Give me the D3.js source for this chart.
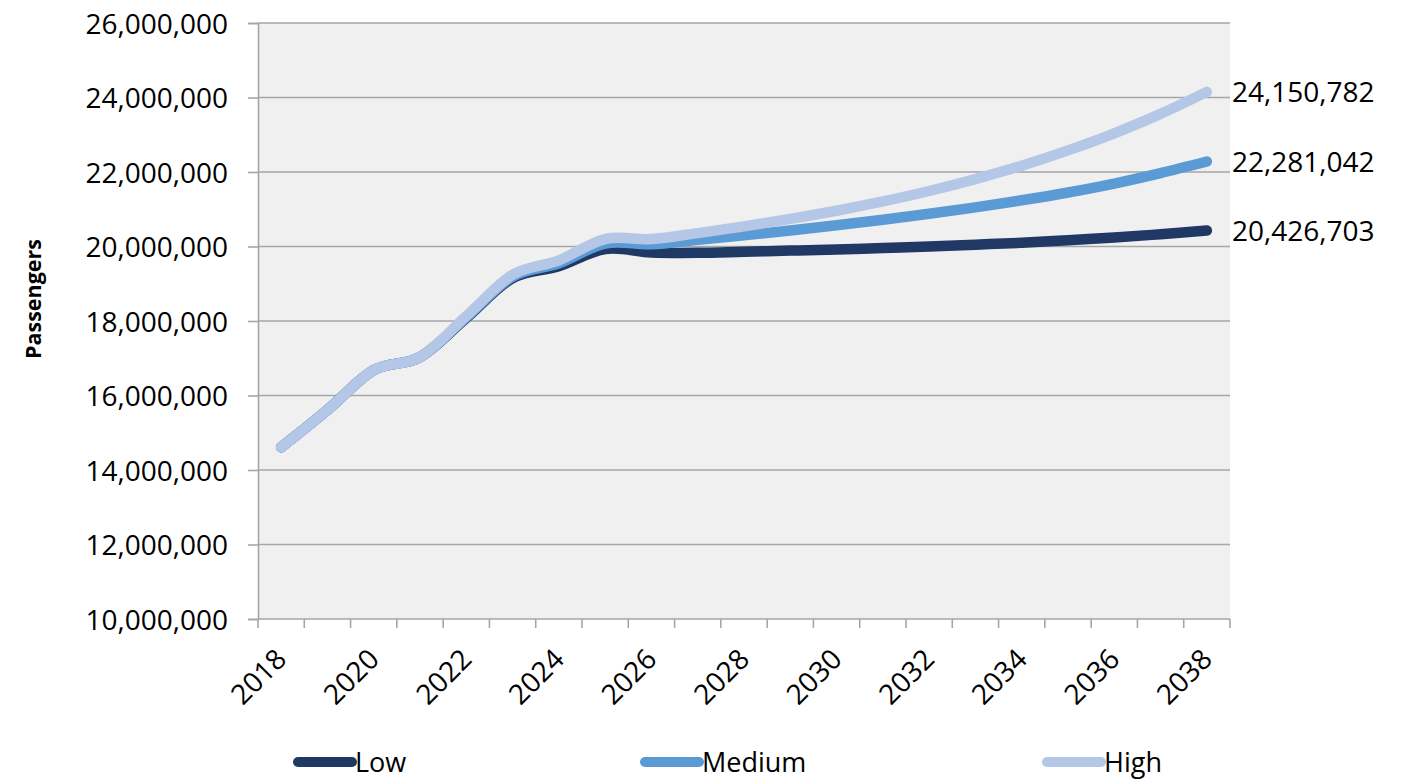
<!DOCTYPE html>
<html>
<head>
<meta charset="utf-8">
<script src="https://cdn.jsdelivr.net/npm/d3@7"></script>
<style>
  html, body { margin: 0; padding: 0; background: #ffffff; }
  svg { display: block; font-family: "Open Sans", sans-serif; }
</style>
</head>
<body>
<svg id="chart" width="1417" height="779"></svg>
<script>
// Passenger forecast scenarios, 2018–2038
const years = [2018, 2019, 2020, 2021, 2022, 2023, 2024, 2025, 2026, 2027, 2028,
               2029, 2030, 2031, 2032, 2033, 2034, 2035, 2036, 2037, 2038];

const lowValues = [14610000, 15610000, 16680000, 17030000, 18080000, 19150000, 19470000,
                   19930000, 19840000, 19830000, 19860000, 19890000, 19920000, 19960000,
                   20000000, 20050000, 20100000, 20170000, 20240000, 20330000, 20426703];

const mediumValues = [14610000, 15610000, 16680000, 17030000, 18100000, 19190000, 19550000,
                      20080000, 20060000, 20180000, 20300000, 20430000, 20570000, 20720000,
                      20880000, 21050000, 21240000, 21450000, 21690000, 21970000, 22281042];

const highValues = [14610000, 15610000, 16680000, 17030000, 18130000, 19240000, 19630000,
                    20200000, 20200000, 20360000, 20540000, 20740000, 20960000, 21210000,
                    21490000, 21810000, 22170000, 22580000, 23040000, 23560000, 24150782];

const seriesNames = ["Low", "Medium", "High"];
const seriesColors = ["#203864", "#5b9bd5", "#b4c7e7"];
const yTicks = [10000000, 12000000, 14000000, 16000000, 18000000, 20000000,
                22000000, 24000000, 26000000];
const xLabelYears = [2018, 2020, 2022, 2024, 2026, 2028, 2030, 2032, 2034, 2036, 2038];

const series = [
  { name: seriesNames[0], color: seriesColors[0], values: lowValues },
  { name: seriesNames[1], color: seriesColors[1], values: mediumValues },
  { name: seriesNames[2], color: seriesColors[2], values: highValues }
];

const svg = d3.select("#chart");
const plot = { left: 258, right: 1230, top: 23, bottom: 619 };

const x = d3.scaleBand().domain(years).range([plot.left, plot.right]).paddingInner(0).paddingOuter(0);
const y = d3.scaleLinear().domain([10000000, 26000000]).range([plot.bottom, plot.top]);
const cx = yr => x(yr) + x.bandwidth() / 2;
const fmt = d3.format(",");

// plot area background
svg.append("rect")
  .attr("x", plot.left).attr("y", plot.top)
  .attr("width", plot.right - plot.left).attr("height", plot.bottom - plot.top)
  .attr("fill", "#f0f0f0");

// horizontal gridlines
svg.append("g").selectAll("line")
  .data(yTicks.filter(t => t > 10000000))
  .join("line")
  .attr("x1", plot.left).attr("x2", plot.right)
  .attr("y1", d => y(d)).attr("y2", d => y(d))
  .attr("stroke", "#a6a6a6").attr("stroke-width", 1.6);

// y axis
const yAxis = svg.append("g")
  .attr("transform", `translate(${plot.left},0)`)
  .call(d3.axisLeft(y).tickValues(yTicks).tickFormat(fmt).tickSize(10).tickPadding(20));
yAxis.select(".domain").attr("stroke", "#a6a6a6").attr("stroke-width", 1.6);
yAxis.selectAll(".tick line").attr("stroke", "#a6a6a6").attr("stroke-width", 1.6);
yAxis.selectAll(".tick text")
  .attr("font-family", "Open Sans, sans-serif").attr("font-size", 28).attr("fill", "#000")
  .attr("dy", "0.36em");

// x axis: ticks at category boundaries
const xAxisG = svg.append("g");
xAxisG.append("line")
  .attr("x1", plot.left).attr("x2", plot.right)
  .attr("y1", plot.bottom).attr("y2", plot.bottom)
  .attr("stroke", "#a6a6a6").attr("stroke-width", 1.6);
const boundaries = years.map(yr => x(yr)).concat([plot.right]);
xAxisG.selectAll("line.tick")
  .data(boundaries)
  .join("line")
  .attr("class", "tick")
  .attr("x1", d => d).attr("x2", d => d)
  .attr("y1", plot.bottom).attr("y2", plot.bottom + 9)
  .attr("stroke", "#a6a6a6").attr("stroke-width", 1.6);
xAxisG.selectAll("text")
  .data(xLabelYears)
  .join("text")
  .attr("transform", d => `translate(${cx(d) + 7},${plot.bottom + 42}) rotate(-45)`)
  .attr("text-anchor", "end")
  .attr("font-size", 28)
  .attr("fill", "#000")
  .text(d => d);

// y axis title
svg.append("text")
  .attr("transform", `translate(41,299) rotate(-90)`)
  .attr("text-anchor", "middle")
  .attr("font-size", 21.5)
  .attr("font-weight", "bold")
  .attr("fill", "#000")
  .text("Passengers");

// scenario lines
const line = d3.line()
  .x((d, i) => cx(years[i]))
  .y(d => y(d))
  .curve(d3.curveCardinal.tension(0));

svg.append("g").selectAll("path")
  .data(series)
  .join("path")
  .attr("d", d => line(d.values))
  .attr("fill", "none")
  .attr("stroke", d => d.color)
  .attr("stroke-width", 10.5)
  .attr("stroke-linecap", "round")
  .attr("stroke-linejoin", "round");

// end-of-line value labels
svg.append("g").selectAll("text")
  .data(series)
  .join("text")
  .attr("x", plot.right + 2)
  .attr("y", d => y(d.values[d.values.length - 1]))
  .attr("dy", "0.36em")
  .attr("font-size", 28)
  .attr("fill", "#000")
  .text(d => fmt(d.values[d.values.length - 1]));

// legend
const legendX = [298, 645, 1047];
const legend = svg.append("g").selectAll("g")
  .data(series)
  .join("g")
  .attr("transform", (d, i) => `translate(${legendX[i]},762)`);
legend.append("line")
  .attr("x1", 0).attr("x2", 54).attr("y1", 0).attr("y2", 0)
  .attr("stroke", d => d.color).attr("stroke-width", 10)
  .attr("stroke-linecap", "round");
legend.append("text")
  .attr("x", 57).attr("y", 0).attr("dy", "0.36em")
  .attr("font-size", 27)
  .attr("fill", "#000")
  .text(d => d.name);
</script>
</body>
</html>
